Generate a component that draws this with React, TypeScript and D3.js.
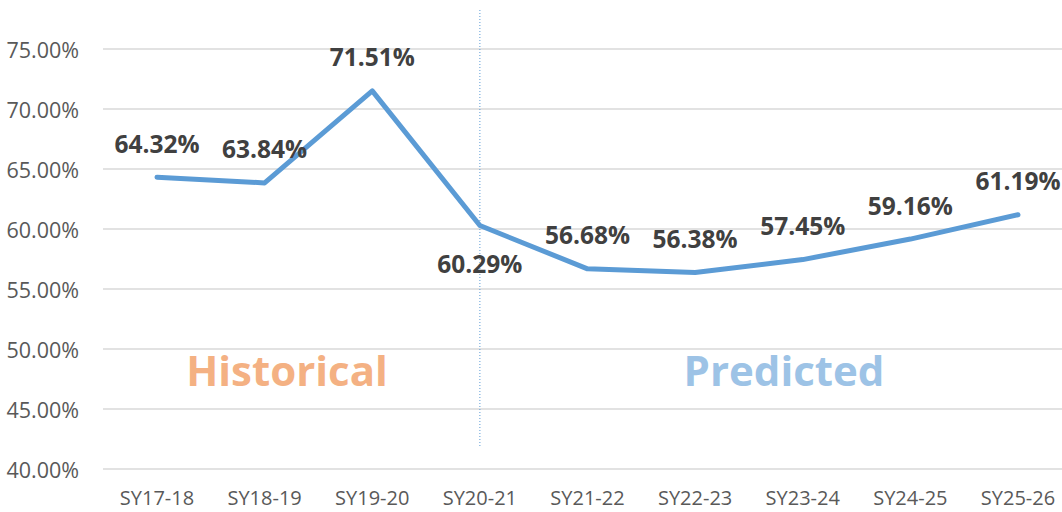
import React, { useEffect, useRef } from 'react';
import * as d3 from 'd3';

const years = ['SY17-18', 'SY18-19', 'SY19-20', 'SY20-21', 'SY21-22', 'SY22-23', 'SY23-24', 'SY24-25', 'SY25-26'];
const rates = [64.32, 63.84, 71.51, 60.29, 56.68, 56.38, 57.45, 59.16, 61.19];
const yTicks = [40, 45, 50, 55, 60, 65, 70, 75];
const labelsBelow = ['SY20-21'];

const FONT = '"Open Sans", Lato, sans-serif';

const App = () => {
  const svgRef = useRef<SVGSVGElement>(null);

  useEffect(() => {
    const svg = d3.select(svgRef.current);
    svg.selectAll('*').remove();

    const x = d3.scalePoint<string>().domain(years).range([157, 1018]);
    const y = d3.scaleLinear().domain([40, 75]).range([469, 49]);

    // gridlines + y labels
    const grid = svg.append('g');
    grid.selectAll('line')
      .data(yTicks)
      .join('line')
      .attr('x1', 103)
      .attr('x2', 1062)
      .attr('y1', (d) => y(d))
      .attr('y2', (d) => y(d))
      .attr('stroke', '#d9d9d9')
      .attr('stroke-width', 1.5);
    grid.selectAll('text')
      .data(yTicks)
      .join('text')
      .attr('x', 79)
      .attr('y', (d) => y(d))
      .attr('text-anchor', 'end')
      .attr('dominant-baseline', 'central')
      .attr('font-family', FONT)
      .attr('font-size', 21.5)
      .attr('fill', '#595959')
      .text((d) => d.toFixed(2) + '%');

    // x labels
    svg.append('g')
      .selectAll('text')
      .data(years)
      .join('text')
      .attr('x', (d) => x(d)!)
      .attr('y', 497.5)
      .attr('text-anchor', 'middle')
      .attr('dominant-baseline', 'central')
      .attr('font-family', FONT)
      .attr('font-size', 20)
      .attr('fill', '#595959')
      .text((d) => d);

    // divider between historical and predicted
    svg.append('line')
      .attr('x1', x('SY20-21')!)
      .attr('x2', x('SY20-21')!)
      .attr('y1', 10)
      .attr('y2', 447)
      .attr('stroke', '#5b9bd5')
      .attr('stroke-width', 1)
      .attr('stroke-dasharray', '1,2');

    // section labels
    svg.append('text')
      .attr('x', 287)
      .attr('y', 369)
      .attr('text-anchor', 'middle')
      .attr('dominant-baseline', 'central')
      .attr('font-family', FONT)
      .attr('font-weight', 'bold')
      .attr('font-size', 42)
      .attr('fill', '#f4b183')
      .text('Historical');
    svg.append('text')
      .attr('x', 784)
      .attr('y', 369)
      .attr('text-anchor', 'middle')
      .attr('dominant-baseline', 'central')
      .attr('font-family', FONT)
      .attr('font-weight', 'bold')
      .attr('font-size', 42)
      .attr('fill', '#9dc3e6')
      .text('Predicted');

    const pts = years.map((d, i) => ({ year: d, v: rates[i] }));

    const line = d3.line<{ year: string; v: number }>()
      .x((d) => x(d.year)!)
      .y((d) => y(d.v));

    svg.append('path')
      .datum(pts)
      .attr('d', line)
      .attr('fill', 'none')
      .attr('stroke', '#5b9bd5')
      .attr('stroke-width', 5)
      .attr('stroke-linecap', 'round')
      .attr('stroke-linejoin', 'round');

    // data labels
    svg.append('g')
      .selectAll('text')
      .data(pts)
      .join('text')
      .attr('x', (d) => x(d.year)!)
      .attr('y', (d) => y(d.v) + (labelsBelow.includes(d.year) ? 38 : -34))
      .attr('text-anchor', 'middle')
      .attr('dominant-baseline', 'central')
      .attr('font-family', FONT)
      .attr('font-weight', 'bold')
      .attr('font-size', 24.5)
      .attr('fill', '#404040')
      .text((d) => d.v.toFixed(2) + '%');
  }, []);

  return (
    <div style={{ background: 'white', position: 'absolute', left: 0, top: 0 }}>
      <svg ref={svgRef} width={1062} height={512} style={{ display: 'block' }} />
    </div>
  );
};

export default App;
